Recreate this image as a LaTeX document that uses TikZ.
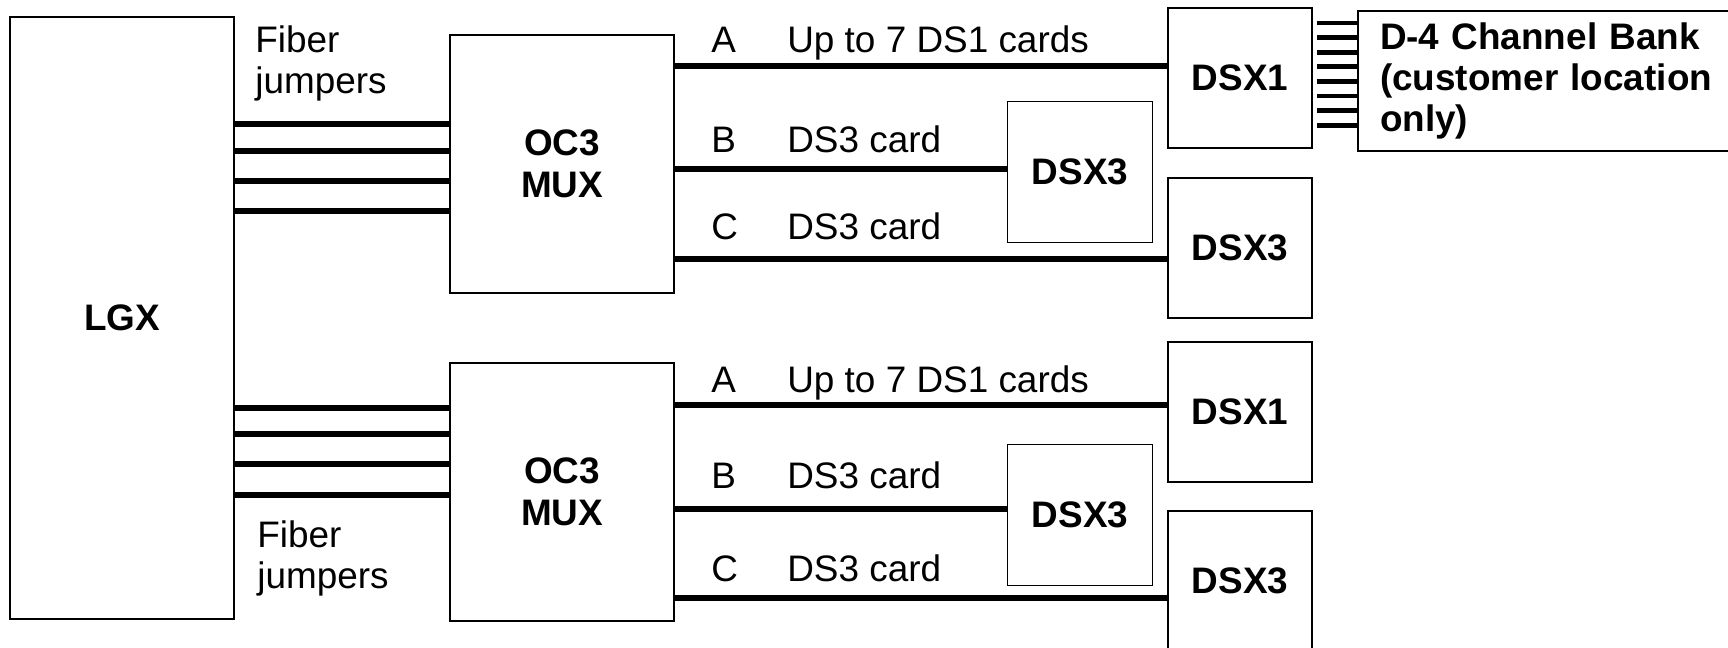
\documentclass[tikz,border=0pt]{standalone}
\usepackage{fontspec}
\setmainfont{Liberation Sans}
\usetikzlibrary{positioning}
\newcommand{\diagfont}{\fontsize{21}{23.6}\selectfont}
\tikzset{
  box/.style 2 args={draw,line width=1.1pt,minimum width=#1*0.02cm,minimum height=#2*0.02cm,inner sep=0pt,align=center,font=\diagfont\bfseries},
  wire/.style={line width=3.2pt},
  stub/.style={line width=2.8pt},
  lbl/.style={anchor=base west,inner sep=0pt,font=\diagfont},
}
\begin{document}
\begin{tikzpicture}[x=0.02cm,y=-0.02cm]
  \useasboundingbox (0,0) rectangle (1728,647);
  \node[box={224}{602}] (lgx) at (122,318) {LGX};
  \node[box={224}{258}] (mux1) at (562,164) {OC3\\MUX};
  \node[box={224}{258}] (mux2) at (562,492) {OC3\\MUX};
  \node[box={144}{140}] (dsx1a) at (1240,78) {DSX1};
  \node[box={145}{141}] (dsx3a) at (1080,172) {DSX3};
  \node[box={144}{140}] (dsx3b) at (1240,248) {DSX3};
  \node[box={144}{140}] (dsx1b) at (1240,412) {DSX1};
  \node[box={145}{141}] (dsx3c) at (1080,515) {DSX3};
  \node[box={144}{140}] (dsx3d) at (1240,581) {DSX3};
  \node[box={400}{140},anchor=north west,text width=7.12cm,inner xsep=0.44cm,align=left] (d4) at (1357,10)
    {D-4 Channel Bank\\(customer location\\only)};
  \foreach \y in {124,151,181,211} \draw[wire] (lgx.east |- 0,\y) -- (mux1.west |- 0,\y);
  \foreach \y in {408,434,464,495} \draw[wire] (lgx.east |- 0,\y) -- (mux2.west |- 0,\y);
  \node[lbl,anchor=north west,align=left] (fib1) at (255,25) {Fiber\\jumpers};
  \node[lbl,anchor=north west,align=left] (fib2) at (257,520) {Fiber\\jumpers};
  \draw[wire] (mux1.east |- 0,66) -- (dsx1a.west |- 0,66);
  \draw[wire] (mux1.east |- 0,169) -- (dsx3a.west |- 0,169);
  \draw[wire] (mux1.east |- 0,259) -- (dsx3b.west |- 0,259);
  \draw[wire] (mux2.east |- 0,405) -- (dsx1b.west |- 0,405);
  \draw[wire] (mux2.east |- 0,509) -- (dsx3c.west |- 0,509);
  \draw[wire] (mux2.east |- 0,598) -- (dsx3d.west |- 0,598);
  \node[lbl] (a1) at (711,52) {A};
  \node[lbl] (a1t) at (787,52) {Up to 7 DS1 cards};
  \node[lbl] (b1) at (711,152) {B};
  \node[lbl] (b1t) at (787,152) {DS3 card};
  \node[lbl] (c1) at (711,239) {C};
  \node[lbl] (c1t) at (787,239) {DS3 card};
  \node[lbl] (a2) at (711,392) {A};
  \node[lbl] (a2t) at (787,392) {Up to 7 DS1 cards};
  \node[lbl] (b2) at (711,488) {B};
  \node[lbl] (b2t) at (787,488) {DS3 card};
  \node[lbl] (c2) at (711,581) {C};
  \node[lbl] (c2t) at (787,581) {DS3 card};
  \foreach \k in {0,...,7}{
    \pgfmathsetmacro{\ys}{23+14.6*\k}
    \draw[stub] (d4.west |- 0,\ys) -- ++(-40,0);
  }
\end{tikzpicture}
\end{document}
